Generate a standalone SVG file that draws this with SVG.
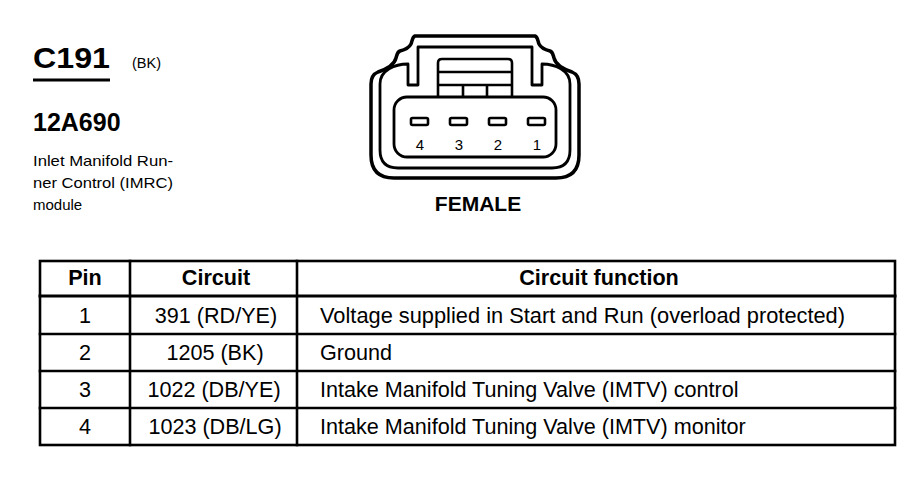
<svg xmlns="http://www.w3.org/2000/svg" width="918" height="480" viewBox="0 0 918 480">
<style>
.t{font-family:"Liberation Sans",Arial,sans-serif;fill:#000}
.b{font-weight:bold}
.ln{stroke:#000;fill:none;stroke-linecap:square}
.cell{font-family:"Liberation Sans",Arial,sans-serif;font-size:21.6px;fill:#000}
.hd{font-family:"Liberation Sans",Arial,sans-serif;font-size:21.6px;font-weight:bold;fill:#000}
.slot{fill:#fff;stroke:#000;stroke-width:2.6}
</style>
<rect width="918" height="480" fill="#fff"/>

<g id="title">
<text class="t b" x="33" y="68" font-size="30" textLength="77" lengthAdjust="spacingAndGlyphs">C191</text>
<line x1="33" y1="80" x2="110" y2="80" stroke="#000" stroke-width="3"/>
<text class="t" x="132" y="68" font-size="14.5">(BK)</text>
<text class="t b" x="33" y="131" font-size="25">12A690</text>
<text class="t" x="33" y="166" font-size="15" textLength="140" lengthAdjust="spacingAndGlyphs">Inlet Manifold Run-</text>
<text class="t" x="33" y="188" font-size="15" textLength="140" lengthAdjust="spacingAndGlyphs">ner Control (IMRC)</text>
<text class="t" x="33" y="210" font-size="15">module</text>
</g>

<g id="connector">
<path class="ln" stroke-width="3.5" stroke-linejoin="round" d="M 415,36 L 535,36 C 538,37 538,42 539,44 C 541,48 546,50 550,51 C 553,52 553,55 554,58 C 556,66 566,70 572,72 C 577,74 579,78 579,84 L 579,155 Q 579,178 556,178 L 394,178 Q 371,178 371,155 L 371,84 C 371,78 373,74 378,72 C 384,70 394,66 396,58 C 397,55 397,52 400,51 C 404,50 409,48 411,44 C 412,42 412,37 415,36 Z"/>
<path class="ln" stroke-width="2.8" stroke-linejoin="round" d="M 418,47 L 532,47 L 532,85 L 542,85 L 542,64 C 555,64 570,70 570,84 L 570,150 Q 570,168 552,168 L 398,168 Q 380,168 380,150 L 380,84 C 380,70 395,64 408,64 L 408,85 L 418,85 Z"/>
<rect class="ln" stroke-width="2.8" x="394" y="97" width="162" height="60" rx="13"/>
<path class="ln" stroke-width="2.6" d="M 438,96 L 438,63 Q 438,59 442,59 L 508,59 Q 512,59 512,63 L 512,96 M 438,72 L 512,72 M 438,85 L 512,85 M 463,85 L 463,96 M 487,85 L 487,96"/>
<rect class="slot" x="411" y="118" width="17" height="7" rx="1.5"/>
<rect class="slot" x="450" y="118" width="17" height="7" rx="1.5"/>
<rect class="slot" x="489" y="118" width="17" height="7" rx="1.5"/>
<rect class="slot" x="528" y="118" width="17" height="7" rx="1.5"/>
<text class="t" font-size="15" text-anchor="middle" x="420" y="150">4</text>
<text class="t" font-size="15" text-anchor="middle" x="459" y="150">3</text>
<text class="t" font-size="15" text-anchor="middle" x="498" y="150">2</text>
<text class="t" font-size="15" text-anchor="middle" x="537" y="150">1</text>
<text class="t b" font-size="21" text-anchor="middle" x="478" y="211">FEMALE</text>
</g>

<g id="table">
<g class="ln" stroke-width="2.6">
<rect x="40" y="261" width="855" height="184"/>
<line x1="40" y1="296" x2="895" y2="296" stroke-width="3"/>
<line x1="40" y1="334" x2="895" y2="334"/>
<line x1="40" y1="371" x2="895" y2="371"/>
<line x1="40" y1="408" x2="895" y2="408"/>
<line x1="130" y1="261" x2="130" y2="445"/>
<line x1="297" y1="261" x2="297" y2="445"/>
</g>
<text class="hd" text-anchor="middle" x="85" y="285">Pin</text>
<text class="hd" text-anchor="middle" x="216" y="285">Circuit</text>
<text class="hd" text-anchor="middle" x="599" y="285">Circuit function</text>

<text class="cell" text-anchor="middle" x="85" y="323">1</text>
<text class="cell" text-anchor="middle" x="216" y="323">391 (RD/YE)</text>
<text class="cell" x="320" y="323" textLength="525" lengthAdjust="spacingAndGlyphs">Voltage supplied in Start and Run (overload protected)</text>

<text class="cell" text-anchor="middle" x="85" y="360">2</text>
<text class="cell" text-anchor="middle" x="215" y="360">1205 (BK)</text>
<text class="cell" x="320" y="360">Ground</text>

<text class="cell" text-anchor="middle" x="85" y="397">3</text>
<text class="cell" text-anchor="middle" x="214" y="397">1022 (DB/YE)</text>
<text class="cell" x="320" y="397">Intake Manifold Tuning Valve (IMTV) control</text>

<text class="cell" text-anchor="middle" x="85" y="434">4</text>
<text class="cell" text-anchor="middle" x="215" y="434">1023 (DB/LG)</text>
<text class="cell" x="320" y="434">Intake Manifold Tuning Valve (IMTV) monitor</text>
</g>
</svg>
